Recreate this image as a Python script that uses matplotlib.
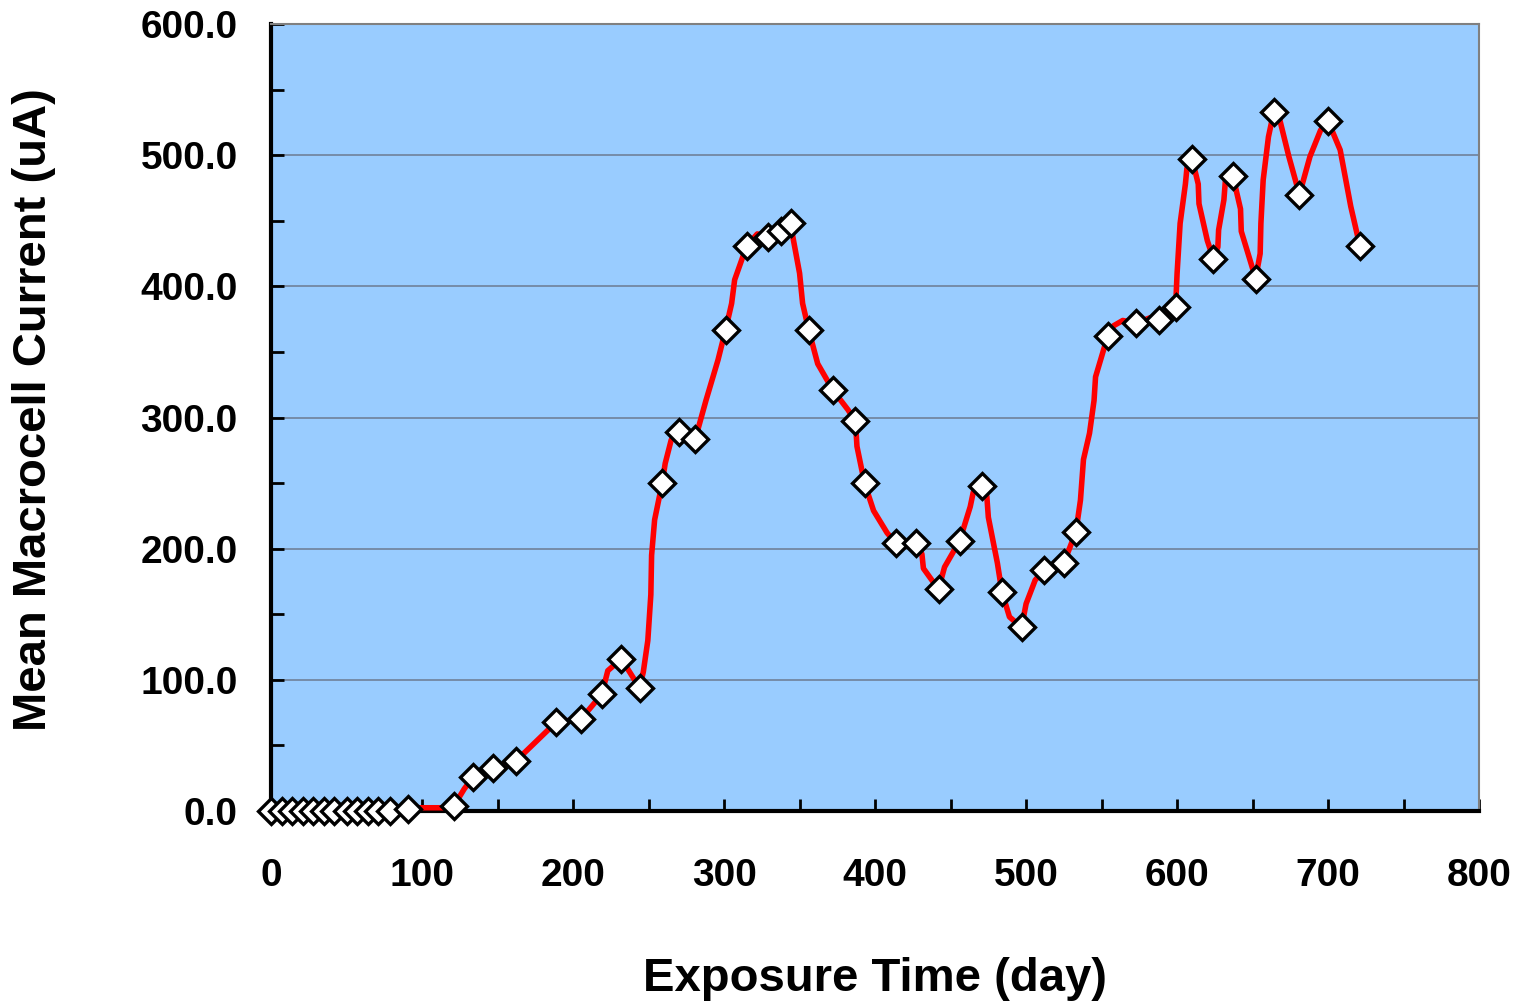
import matplotlib
matplotlib.use("Agg")
import matplotlib.pyplot as plt
from matplotlib.ticker import MultipleLocator, FormatStrFormatter

# marker readings (day, uA)
marker_days = [0, 7, 14, 21, 28, 35, 42, 50, 57, 64, 71, 79, 91,
               121, 134, 147, 162, 189, 205, 219, 232, 244, 259, 270, 281,
               301, 315, 329, 338, 344, 356, 372, 387, 393, 414, 427, 442,
               456, 471, 484, 497, 512, 525, 533, 554, 573, 588, 599, 610,
               624, 637, 652, 664, 681, 700, 721]
marker_vals = [0, 0, 0, 0, 0, 0, 0, 0, 0, 0, 0, 0, 1.5,
               3.8, 26, 33, 38, 68, 70, 89, 116, 94, 250, 289, 284,
               367, 431, 438, 442, 448, 367, 321, 297, 250, 204, 204, 169,
               206, 248, 167, 140, 184, 189, 213, 362, 372, 374, 384, 497,
               421, 484, 406, 533, 470, 526, 431]

# red trend line, denser than the markers
line_days = [91, 97, 115, 121, 128, 134, 140, 147, 162, 189, 205, 211, 219,
             223, 232, 244, 246.5, 249.5, 251.5, 252, 254, 259, 261, 265, 270,
             281, 288, 296, 301, 305, 307, 315, 322, 329, 338, 344, 345.5, 350,
             352, 356, 362, 372, 382, 387, 388, 393, 399, 408, 414, 427, 431,
             432, 442, 446, 456, 463, 465, 471, 474, 475, 481, 484, 489, 497,
             500, 506, 512, 525, 533, 536, 538, 542, 545, 546, 554, 558, 564,
             573, 582, 588, 599, 600, 602, 605.5, 606.5, 610, 614, 614.5, 620,
             624, 627, 627.5, 631, 632, 637, 642, 642.5, 652, 655, 655.5, 657,
             660.5, 664, 668, 674, 681, 688, 695, 700, 708, 715, 721]
line_vals = [1.5, 2.5, 2.5, 3.8, 17, 26, 30, 33, 38, 68, 70, 78, 89,
             107, 116, 94, 106, 130, 165, 195, 222, 250, 265, 283, 289,
             284, 313, 344, 367, 387, 405, 431, 440, 438, 442, 448, 438, 410,
             387, 367, 341, 321, 306, 297, 278, 250, 229, 212, 204, 204, 196,
             185, 169, 186, 206, 232, 243, 248, 240, 224, 189, 167, 148, 140,
             158, 176, 184, 189, 213, 237, 268, 288, 313, 331, 362, 370, 374,
             372, 376, 375, 384, 410, 448, 478, 490, 497, 478, 463, 435,
             421, 430, 443, 466, 481, 484, 459, 442, 406, 425, 448, 481,
             514, 533, 527, 499, 470, 499, 519, 526, 504, 461, 431]

plt.rcParams['font.family'] = ['Liberation Sans', 'DejaVu Sans']
plt.rcParams['font.weight'] = 'bold'

fig = plt.figure(figsize=(15.28, 10.06), dpi=100)
ax = fig.add_axes([0.1774, 0.1938, 0.7906, 0.7823])
ax.set_facecolor('#99CCFF')

ax.plot(line_days, line_vals, color='#FF0000', lw=4, zorder=3,
        solid_joinstyle='round', solid_capstyle='round')
ax.plot(marker_days, marker_vals, ls='none', marker='D', ms=13,
        mfc='white', mec='black', mew=2.4, zorder=4, clip_on=False)

ax.set_xlim(0, 800)
ax.set_ylim(0, 600)
ax.xaxis.set_major_locator(MultipleLocator(100))
ax.xaxis.set_minor_locator(MultipleLocator(50))
ax.yaxis.set_major_locator(MultipleLocator(100))
ax.yaxis.set_minor_locator(MultipleLocator(50))
ax.yaxis.set_major_formatter(FormatStrFormatter('%.1f'))

ax.grid(axis='y', which='major', color='#6F8199', lw=1.2, zorder=1)
ax.set_axisbelow(True)

ax.tick_params(which='both', direction='in', length=9, width=2,
               color='black', labelsize=28)
ax.tick_params(axis='x', which='major', pad=34)
ax.tick_params(axis='y', which='major', pad=24)

for s in ['left', 'bottom']:
    ax.spines[s].set_linewidth(3)
    ax.spines[s].set_color('black')
for s in ['top', 'right']:
    ax.spines[s].set_linewidth(1.5)
    ax.spines[s].set_color('#808080')

ax.set_xlabel('Exposure Time (day)', fontsize=34, fontweight='bold')
ax.set_ylabel('Mean Macrocell Current (uA)', fontsize=34, fontweight='bold')
ax.xaxis.set_label_coords(0.5, -0.185)
ax.yaxis.set_label_coords(-0.178, 0.51)

plt.savefig('out.png', dpi=100)
